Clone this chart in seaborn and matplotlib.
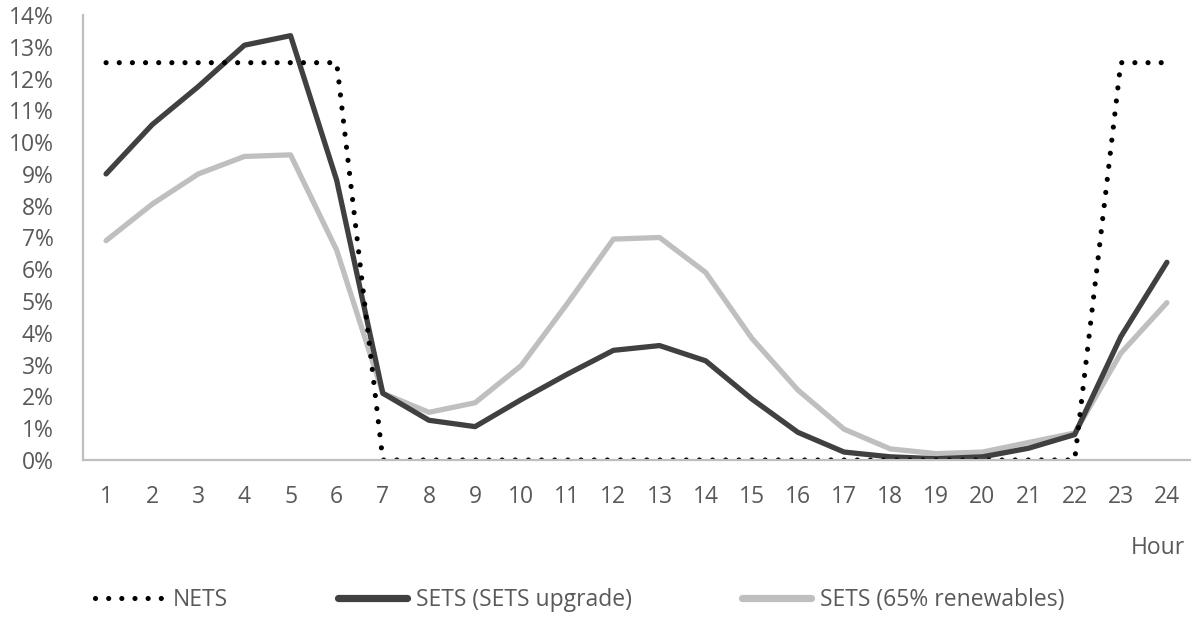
import matplotlib
matplotlib.use("Agg")
import matplotlib.pyplot as plt
import matplotlib.ticker as mticker
import pandas as pd
import seaborn as sns

# hourly share of daily heat demand (%)
hours = list(range(1, 25))
nets = [12.5] * 6 + [0.0] * 16 + [12.5] * 2
sets_upgrade = [9.0, 10.55, 11.75, 13.05, 13.35, 8.8, 2.1, 1.25, 1.05, 1.9, 2.7, 3.45,
                3.6, 3.12, 1.92, 0.87, 0.25, 0.1, 0.04, 0.1, 0.37, 0.8, 3.88, 6.22]
sets_renew = [6.9, 8.05, 9.0, 9.55, 9.6, 6.6, 2.1, 1.5, 1.8, 2.97, 4.92, 6.95,
              7.0, 5.9, 3.83, 2.2, 0.97, 0.35, 0.2, 0.25, 0.55, 0.85, 3.36, 4.95]
series_names = ["NETS", "SETS (SETS upgrade)", "SETS (65% renewables)"]

df = pd.DataFrame({"Hour": hours, series_names[0]: nets,
                   series_names[1]: sets_upgrade, series_names[2]: sets_renew})

sns.set_style("white")
plt.rcParams["font.family"] = ["Open Sans", "DejaVu Sans"]
axis_grey = "#BFBFBF"
text_grey = "#595959"

fig = plt.figure(figsize=(11.92, 6.3), dpi=100)
ax = fig.add_axes([83 / 1192, 1 - 460 / 630, (1190 - 83) / 1192, (460 - 15) / 630])

# draw order: renewables under, upgrade, then the dotted NETS on top
sns.lineplot(data=df, x="Hour", y=series_names[2], ax=ax, color="#BFBFBF",
             lw=3.8, label=series_names[2], solid_capstyle="round")
sns.lineplot(data=df, x="Hour", y=series_names[1], ax=ax, color="#404040",
             lw=3.8, label=series_names[1], solid_capstyle="round")
sns.lineplot(data=df, x="Hour", y=series_names[0], ax=ax, color="black",
             lw=3.7, linestyle=(0, (0.01, 2.55)), dash_capstyle="round",
             label=series_names[0])

ax.set_xlim(0.5, 24.5)
ax.set_ylim(0, 14)
ax.set_xticks(hours)
ax.set_xticks([h + 0.5 for h in range(0, 24)], minor=True)
ax.set_yticks(range(0, 15))
ax.yaxis.set_major_formatter(mticker.FuncFormatter(lambda v, _: f"{v:.0f}%"))

for side in ["top", "right"]:
    ax.spines[side].set_visible(False)
for side in ["left", "bottom"]:
    ax.spines[side].set_color(axis_grey)
    ax.spines[side].set_linewidth(1.6)

ax.tick_params(axis="x", which="major", length=0, pad=18, labelsize=16.5, labelcolor=text_grey)
ax.tick_params(axis="x", which="minor", direction="in", length=6, width=1.4, color=axis_grey)
ax.tick_params(axis="y", direction="in", length=6, width=1.4, color=axis_grey,
               pad=21, labelsize=16.5, labelcolor=text_grey)
ax.set_xlabel("")
ax.set_ylabel("")
ax.legend_.remove()

fig.text(1185 / 1192, 1 - 548 / 630, "Hour", ha="right", va="center",
         fontsize=16.5, color=text_grey)

handles, labels = ax.get_legend_handles_labels()
order = [2, 1, 0]
leg = fig.legend([handles[i] for i in order], [labels[i] for i in order],
                 loc="center left", bbox_to_anchor=(86 / 1192, 1 - 600 / 630), ncol=3,
                 frameon=False, fontsize=16.5, labelcolor=text_grey, handlelength=3.0,
                 handletextpad=0.4, columnspacing=4.8, borderaxespad=0)
# Excel draws the solid legend keys thicker than the plotted lines
for line in leg.get_lines()[1:]:
    line.set_linewidth(5.2)
    line.set_solid_capstyle("round")

fig.savefig("out.png", dpi=100)
